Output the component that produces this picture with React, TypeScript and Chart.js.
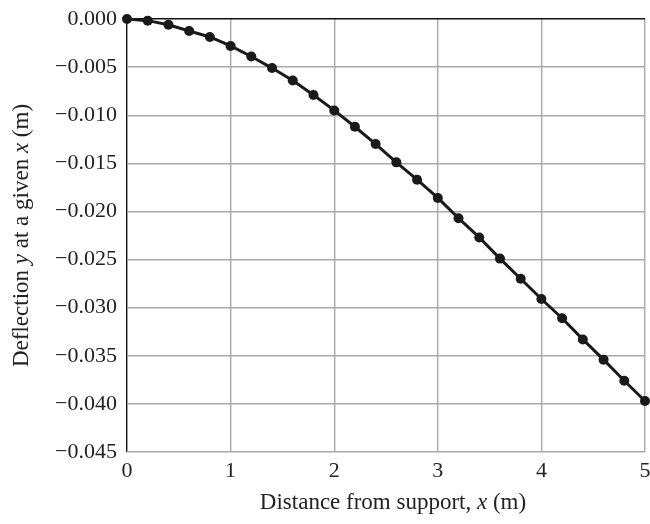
import React, { useEffect, useRef } from 'react';
import { Chart, registerables } from 'chart.js';

Chart.register(...registerables);

const xValues = [0, 0.2, 0.4, 0.6, 0.8, 1.0, 1.2, 1.4, 1.6, 1.8, 2.0, 2.2, 2.4, 2.6, 2.8, 3.0, 3.2, 3.4, 3.6, 3.8, 4.0, 4.2, 4.4, 4.6, 4.8, 5.0];
const deflection = [0, -0.00017, -0.0006, -0.00125, -0.00187, -0.0028, -0.0039, -0.0051, -0.0064, -0.0079, -0.0095, -0.0112, -0.013, -0.0149, -0.0167, -0.0186, -0.0207, -0.0227, -0.0249, -0.027, -0.0291, -0.0311, -0.0333, -0.0354, -0.0376, -0.0397];

const xTitleParts = [
  { text: 'Distance from support, ', italic: false },
  { text: 'x', italic: true },
  { text: ' (m)', italic: false },
];
const yTitleParts = [
  { text: 'Deflection ', italic: false },
  { text: 'y', italic: true },
  { text: ' at a given ', italic: false },
  { text: 'x', italic: true },
  { text: ' (m)', italic: false },
];

const FONT_FAMILY = '"Liberation Serif", "Times New Roman", serif';
const TICK_SIZE = 22;
const TITLE_SIZE = 23;

function drawParts(ctx: CanvasRenderingContext2D, parts: { text: string; italic: boolean }[], cx: number, cy: number) {
  const fonts = parts.map(p => `${p.italic ? 'italic ' : ''}${TITLE_SIZE}px ${FONT_FAMILY}`);
  let total = 0;
  const widths = parts.map((p, i) => {
    ctx.font = fonts[i];
    const w = ctx.measureText(p.text).width;
    total += w;
    return w;
  });
  let x = cx - total / 2;
  ctx.textBaseline = 'middle';
  ctx.textAlign = 'left';
  parts.forEach((p, i) => {
    ctx.font = fonts[i];
    ctx.fillText(p.text, x, cy);
    x += widths[i];
  });
}

const titlePlugin = {
  id: 'mixedTitles',
  afterDraw(chart: any) {
    const ctx = chart.ctx as CanvasRenderingContext2D;
    const area = chart.chartArea;
    ctx.save();
    ctx.fillStyle = '#222';
    drawParts(ctx, xTitleParts, (area.left + area.right) / 2 + 7, 503);
    ctx.translate(22, (area.top + area.bottom) / 2);
    ctx.rotate(-Math.PI / 2);
    drawParts(ctx, yTitleParts, 0, 0);
    ctx.restore();
  },
};

export default function App() {
  const canvasRef = useRef<HTMLCanvasElement | null>(null);

  useEffect(() => {
    if (!canvasRef.current) return;
    const chart = new Chart(canvasRef.current, {
      type: 'line',
      data: {
        datasets: [
          {
            data: xValues.map((x, i) => ({ x, y: deflection[i] })),
            borderColor: '#1a1a1a',
            backgroundColor: '#1a1a1a',
            borderWidth: 3,
            pointRadius: 5,
            pointBackgroundColor: '#1a1a1a',
            pointBorderWidth: 0,
            tension: 0,
            clip: false,
          } as any,
        ],
      },
      options: {
        animation: false,
        responsive: true,
        maintainAspectRatio: false,
        layout: { padding: { left: 0, right: 1, top: 19, bottom: 0 } },
        plugins: { legend: { display: false }, tooltip: { enabled: false }, title: { display: false } },
        scales: {
          x: {
            type: 'linear',
            min: 0,
            max: 5,
            ticks: {
              stepSize: 1,
              color: '#222',
              padding: 6,
              font: { family: FONT_FAMILY, size: TICK_SIZE },
              callback: (v: any) => String(v),
            },
            grid: {
              drawTicks: false,
              lineWidth: 1.4,
              color: (c: any) => (c.tick && c.tick.value === 0 ? '#111' : '#a8a8a8'),
            },
            border: { display: false },
            afterFit: (scale: any) => {
              scale.height = 72;
              scale.paddingRight = 0;
              scale.paddingLeft = 0;
            },
          },
          y: {
            type: 'linear',
            min: -0.045,
            max: 0,
            ticks: {
              stepSize: 0.005,
              color: '#222',
              padding: 10,
              font: { family: FONT_FAMILY, size: TICK_SIZE },
              callback: (v: any) => {
                const n = Number(v);
                const s = Math.abs(n).toFixed(3);
                return n < -1e-9 ? '\u2212' + s : s;
              },
            },
            grid: {
              drawTicks: false,
              lineWidth: 1.4,
              color: (c: any) => (c.tick && Math.abs(c.tick.value) < 1e-9 ? '#111' : '#a8a8a8'),
            },
            border: { display: false },
            afterFit: (scale: any) => {
              scale.width = 127;
              scale.paddingTop = 0;
              scale.paddingBottom = 0;
            },
          },
        },
      },
      plugins: [titlePlugin],
    });
    return () => chart.destroy();
  }, []);

  return (
    <div style={{ position: 'absolute', left: 0, top: 0, width: 650, height: 524, background: '#fff' }}>
      <canvas ref={canvasRef} />
    </div>
  );
}
